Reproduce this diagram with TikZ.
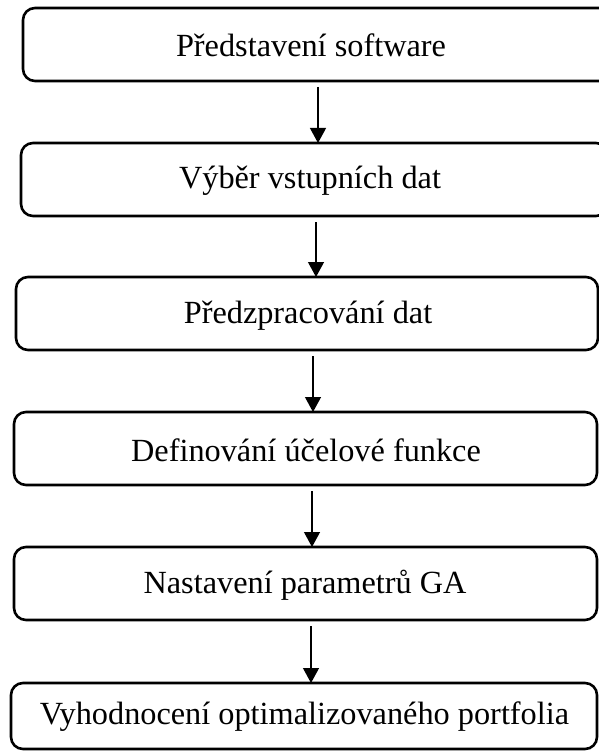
\documentclass[tikz,border=0pt]{standalone}
\usepackage{fontspec}
\setmainfont{Liberation Serif}
\usetikzlibrary{arrows.meta}
\begin{document}
\begin{tikzpicture}[x=1pt,y=-1pt,
  box/.style={draw, line width=2.6pt, rounded corners=12pt, outer sep=0pt, inner sep=0pt},
  lbl/.style={font=\fontsize{32.3}{38}\selectfont, inner sep=0pt, anchor=center},
  arr/.style={line width=1.2pt, -{Triangle[length=15pt,width=16pt]}}]
\useasboundingbox (0,0) rectangle (598,751);
\node[box, minimum width=597pt, minimum height=73pt] (b1) at (321.5,44.5) {};
\node[box, minimum width=587pt, minimum height=73pt] (b2) at (314.5,179.5) {};
\node[box, minimum width=582pt, minimum height=73pt] (b3) at (307,313.5) {};
\node[box, minimum width=583pt, minimum height=73pt] (b4) at (305.5,448.5) {};
\node[box, minimum width=583pt, minimum height=73pt] (b5) at (305.5,583.5) {};
\node[box, minimum width=586pt, minimum height=66pt] (b6) at (304,716) {};
\node[lbl] (t1) at (311,45) {Představení software};
\node[lbl] (t2) at (310,181) {Výběr vstupních dat};
\node[lbl] (t3) at (308,316) {Předzpracování dat};
\node[lbl] (t4) at (306,450) {Definování účelové funkce};
\node[lbl] (t5) at (305,585) {Nastavení parametrů GA};
\node[lbl] (t6) at (304.5,717) {Vyhodnocení optimalizovaného portfolia};
\draw[arr] ([xshift=-3.5pt,yshift=-6pt]b1.south) -- ([xshift=3.5pt]b2.north);
\draw[arr] ([xshift=1.5pt,yshift=-6pt]b2.south) -- ([xshift=9pt]b3.north);
\draw[arr] ([xshift=6pt,yshift=-6pt]b3.south) -- ([xshift=7.5pt]b4.north);
\draw[arr] ([xshift=6.5pt,yshift=-6pt]b4.south) -- ([xshift=6.5pt]b5.north);
\draw[arr] ([xshift=5.5pt,yshift=-6pt]b5.south) -- ([xshift=7pt]b6.north);
\end{tikzpicture}
\end{document}
